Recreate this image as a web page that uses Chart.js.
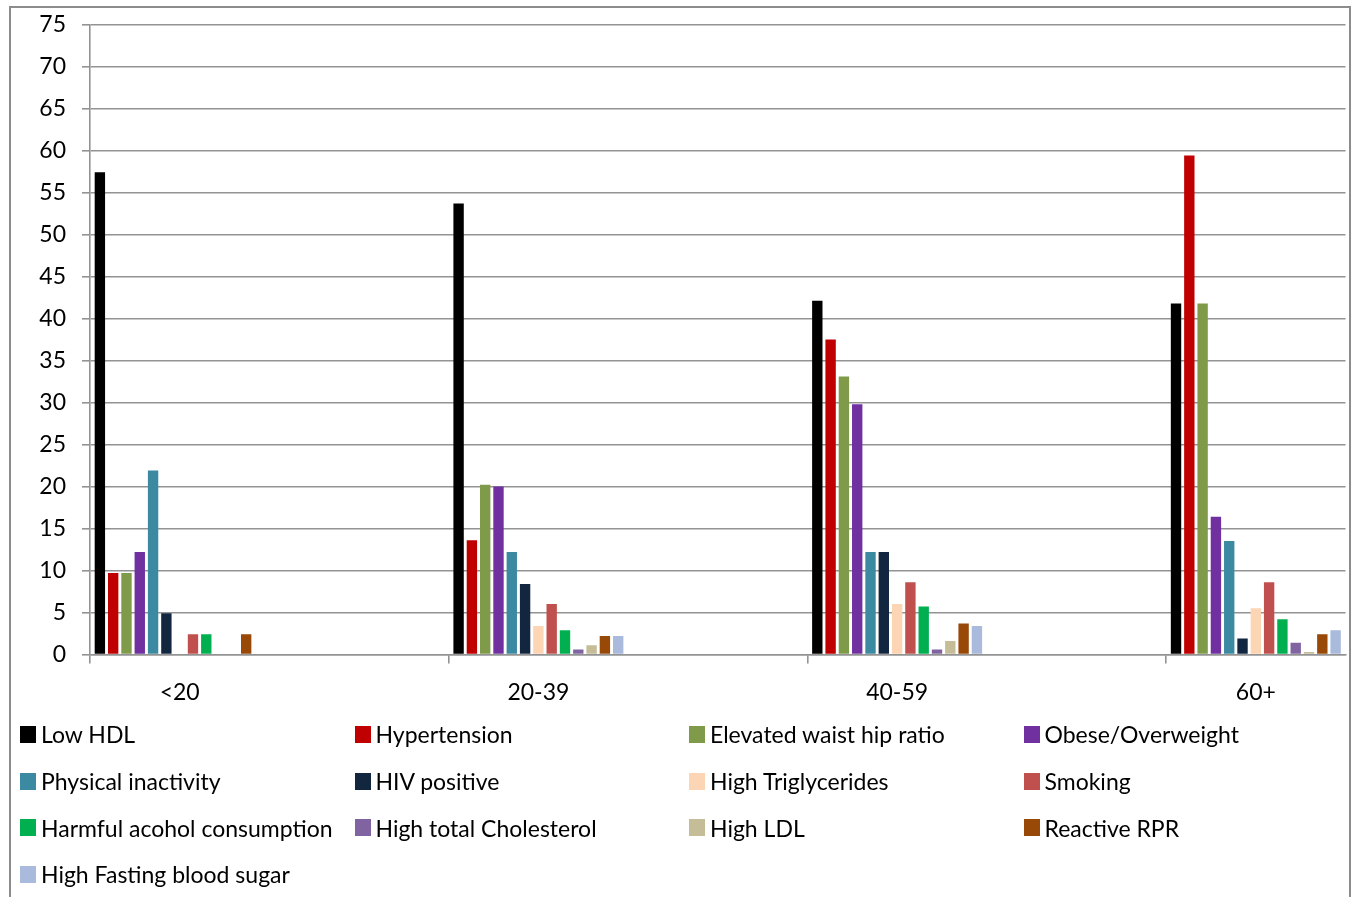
<!DOCTYPE html>
<html>
<head>
<meta charset="utf-8">
<script src="https://cdn.jsdelivr.net/npm/chart.js@4/dist/chart.umd.min.js"></script>
<style>
  html, body { margin: 0; padding: 0; background: #fff; width: 1355px; height: 897px; overflow: hidden; }
  #wrap { position: absolute; left: 0; top: 0; width: 1355px; height: 897px; }
  #frame { position: absolute; left: 9px; top: 6px; width: 1338px; height: 940px; border: 2px solid #8c8c8c; pointer-events: none; }
  #legend { position: absolute; left: 20px; top: 711px; display: grid;
            grid-template-columns: repeat(4, 334.5px); grid-auto-rows: 46.7px;
            font-family: Lato, "DejaVu Sans", sans-serif; font-size: 23px; color: #000; }
  #legend .item { display: flex; align-items: center; white-space: nowrap; }
  #legend .sw { width: 16px; height: 17px; margin-right: 5px; flex: none; }
</style>
</head>
<body>
<div id="wrap"><canvas id="chart"></canvas></div>
<div id="legend"></div>
<div id="frame"></div>
<script>
// Age groups on the x axis
const ageGroups = ['<20', '20-39', '40-59', '60+'];

// Prevalence (%) of each risk factor per age group
const lowHDL             = [57.4, 53.7, 42.1, 41.8];
const hypertension       = [9.7, 13.6, 37.5, 59.4];
const waistHipRatio      = [9.7, 20.2, 33.1, 41.8];
const obeseOverweight    = [12.2, 20.0, 29.8, 16.4];
const physicalInactivity = [21.9, 12.2, 12.2, 13.5];
const hivPositive        = [4.9, 8.4, 12.2, 1.9];
const highTriglycerides  = [0, 3.4, 6.0, 5.5];
const smoking            = [2.4, 6.0, 8.6, 8.6];
const harmfulAlcohol     = [2.4, 2.9, 5.7, 4.2];
const highCholesterol    = [0, 0.6, 0.6, 1.4];
const highLDL            = [0, 1.1, 1.6, 0.3];
const reactiveRPR        = [2.4, 2.2, 3.7, 2.4];
const highFastingSugar   = [0, 2.2, 3.4, 2.9];

// Y axis range and step
const yMin = 0, yMax = 75, yStep = 5;

const series = [
  ['Low HDL', lowHDL],
  ['Hypertension', hypertension],
  ['Elevated waist hip ratio', waistHipRatio],
  ['Obese/Overweight', obeseOverweight],
  ['Physical inactivity', physicalInactivity],
  ['HIV positive', hivPositive],
  ['High Triglycerides', highTriglycerides],
  ['Smoking', smoking],
  ['Harmful acohol consumption', harmfulAlcohol],
  ['High total Cholesterol', highCholesterol],
  ['High LDL', highLDL],
  ['Reactive RPR', reactiveRPR],
  ['High Fasting blood sugar', highFastingSugar]
];

const palette = ['#000000', '#C00000', '#7F9B49', '#7030A0', '#3B8AA2', '#122640', '#FCD5B5',
                 '#C0504D', '#00B050', '#8064A2', '#C4BD97', '#984807', '#A9BADC'];

// Each age group is followed by an empty slot, so the bar cluster sits
// in the left half of the space between two tick marks.
const slotLabels = [];
ageGroups.forEach((g, i) => { slotLabels.push(g); if (i < ageGroups.length - 1) slotLabels.push(''); });
const toSlots = vals => {
  const out = [];
  vals.forEach((v, i) => { out.push(v); if (i < vals.length - 1) out.push(null); });
  return out;
};

const gridGray = '#939393';
const fontFamily = 'Lato, "DejaVu Sans", sans-serif';

const chart = new Chart(document.getElementById('chart'), {
  type: 'bar',
  data: {
    labels: slotLabels,
    datasets: series.map(([label, vals], i) => ({
      label,
      data: toSlots(vals),
      backgroundColor: palette[i],
      borderWidth: 0,
      categoryPercentage: 0.964,
      barPercentage: 0.78
    }))
  },
  options: {
    responsive: true,
    maintainAspectRatio: false,
    animation: false,
    events: [],
    layout: { padding: { left: 0, top: 24.5, right: 9.5, bottom: 182.5 } },
    plugins: {
      legend: { display: false },
      tooltip: { enabled: false }
    },
    scales: {
      x: {
        type: 'category',
        offset: true,
        afterFit: s => { s.height = 60; },
        grid: {
          offset: true,
          drawOnChartArea: false,
          drawTicks: true,
          tickLength: 9,
          lineWidth: 1.6,
          tickColor: ctx => (ctx.index !== undefined && ctx.index % 2 === 0) ? gridGray : 'rgba(0,0,0,0)'
        },
        border: { display: true, color: gridGray, width: 1.6 },
        ticks: {
          autoSkip: false,
          maxRotation: 0,
          padding: 15,
          color: '#000',
          font: { family: fontFamily, size: 23 }
        }
      },
      y: {
        min: yMin,
        max: yMax,
        // fixed axis width; the outer padding already leaves room for the end labels
        afterFit: s => { s.width = 90; s.paddingTop = 0; s.paddingBottom = 0; },
        grid: { color: gridGray, lineWidth: 1.6, tickLength: 8, tickColor: gridGray },
        border: { display: true, color: gridGray, width: 1.6 },
        ticks: {
          stepSize: yStep,
          padding: 16,
          color: '#000',
          font: { family: fontFamily, size: 23 }
        }
      }
    }
  }
});

// Legend laid out as a four-column grid under the plot
const legendBox = document.getElementById('legend');
Chart.defaults.plugins.legend.labels.generateLabels(chart).forEach(item => {
  const el = document.createElement('div');
  el.className = 'item';
  const sw = document.createElement('span');
  sw.className = 'sw';
  sw.style.background = item.fillStyle;
  const tx = document.createElement('span');
  tx.textContent = item.text;
  el.appendChild(sw);
  el.appendChild(tx);
  legendBox.appendChild(el);
});
</script>
</body>
</html>
